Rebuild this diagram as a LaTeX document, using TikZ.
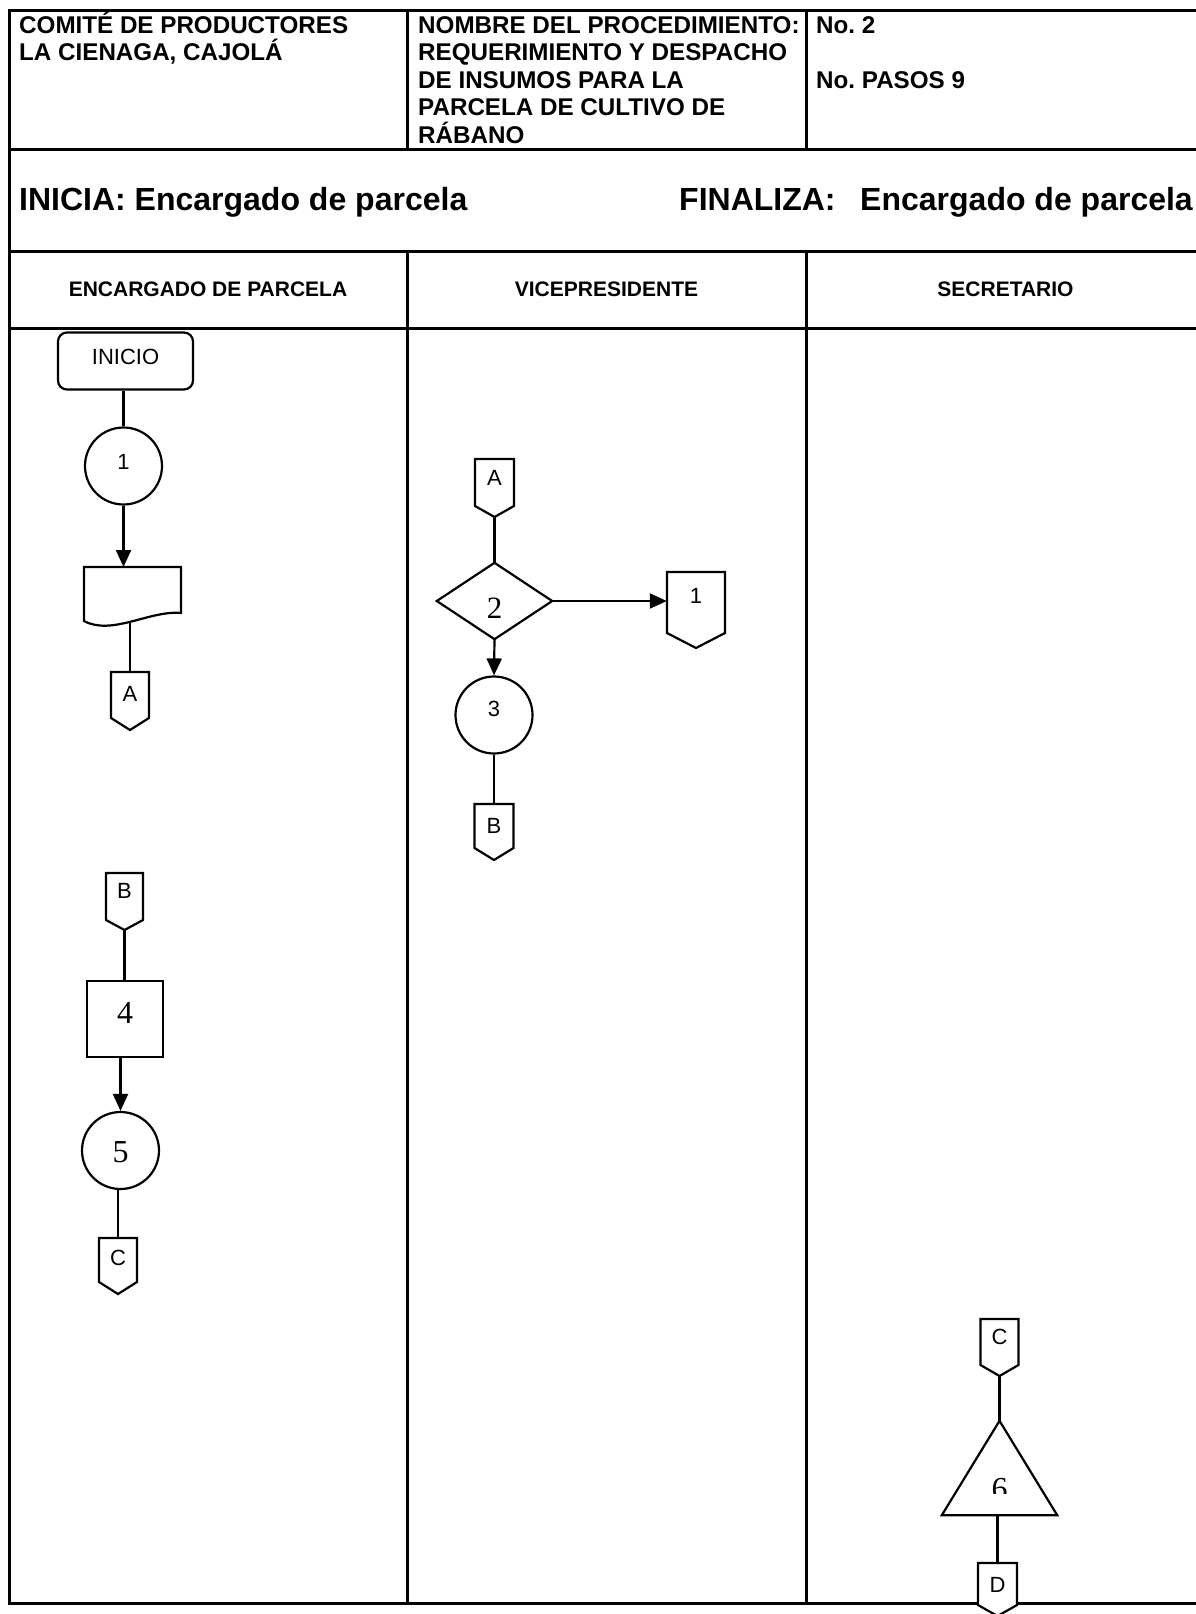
\documentclass[tikz,border=0pt]{standalone}
\usepackage{fontspec}
\setmainfont{Liberation Serif}
\newfontfamily\arialf{Liberation Sans}
\newfontfamily\tnrf{Liberation Serif}
\usetikzlibrary{arrows.meta}
\frenchspacing
\tikzset{
 frame/.style={line width=3pt},
 shp/.style={line width=2.2pt, line join=miter},
 arr/.style={shp, -{Triangle[length=17pt,width=15pt]}},
 hdr/.style={inner sep=0pt, anchor=base west, font=\arialf\bfseries\fontsize{24.2}{29}\selectfont},
 big/.style={inner sep=0pt, font=\arialf\bfseries\fontsize{32}{38}\selectfont},
 lane/.style={inner sep=0pt, font=\arialf\bfseries\fontsize{21}{25}\selectfont},
 lbl/.style={inner sep=0pt, font=\arialf\fontsize{22}{26}\selectfont},
 num/.style={inner sep=0pt, font=\tnrf\fontsize{32}{38}\selectfont},
 circ/.style={shp, draw, circle, minimum size=77pt, inner sep=0pt},
 box/.style={inner sep=0pt, draw=none},
}
\newcommand\offpage[8]{%
  \filldraw[shp, fill=white] ({#2-#4/2},#3) -- ({#2+#4/2},#3) -- ({#2+#4/2},{#3+#5}) -- (#2,{#3+#5+#6}) -- ({#2-#4/2},{#3+#5}) -- cycle;
  \node[box, minimum width=#4pt, minimum height={#5+#6}, anchor=north] (#1) at (#2,#3) {};
  \node[lbl] (#1t) at (#2,#8) {#7};
}
\begin{document}
\begin{tikzpicture}[x=1pt,y=-1pt]
\useasboundingbox (0,0) rectangle (1196,1614);
% frame
\draw[frame] (1200,10) -- (9,10) -- (9,1603) -- (1200,1603);
\draw[frame] (9,149) -- (1200,149);
\draw[frame] (9,251) -- (1200,251);
\draw[frame] (9,328) -- (1200,328);
\draw[frame] (407.5,10) -- (407.5,149);
\draw[frame] (806,10) -- (806,149);
\draw[frame] (407.5,251) -- (407.5,1603);
\draw[frame] (806,251) -- (806,1603);
% header texts
\node[hdr] (h1a) at (19,33) {COMITÉ DE PRODUCTORES};
\node[hdr] (h1b) at (19,60.5) {LA CIENAGA, CAJOLÁ};
\node[hdr] (h2a) at (418,33) {NOMBRE DEL PROCEDIMIENTO:};
\node[hdr] (h2b) at (418,60.5) {REQUERIMIENTO Y DESPACHO};
\node[hdr] (h2c) at (418,88) {DE INSUMOS PARA LA};
\node[hdr] (h2d) at (418,115.5) {PARCELA DE CULTIVO DE};
\node[hdr] (h2e) at (418,143) {RÁBANO};
\node[hdr] (h3a) at (816,33) {No. 2};
\node[hdr] (h3b) at (816,88) {No. PASOS 9};
\node[big, anchor=base west] (ini1) at (19,210) {INICIA: Encargado de parcela};
\node[big, anchor=base west] (fin1) at (679,210) {FINALIZA:};
\node[big, anchor=base east] (fin2) at (1193,210) {Encargado de parcela};
\node[lane] (l1) at (208,289) {ENCARGADO DE PARCELA};
\node[lane] (l2) at (606.5,289) {VICEPRESIDENTE};
\node[lane] (l3) at (1005.5,289) {SECRETARIO};
% lane 1 upper
\node[shp, draw, rounded corners=9pt, minimum width=135pt, minimum height=57pt, inner sep=0pt] (ini) at (125.5,361) {};
\node[lbl] (init) at (125.5,357) {INICIO};
\node[circ] (c1) at (123.5,466) {};
\node[lbl] (c1t) at (123.5,462) {1};
\draw[shp] (c1.north |- ini.south) -- (c1.north);
\node[box, minimum width=97pt, minimum height=54pt, anchor=north] (doc) at (132.5,567) {};
\draw[shp] (84,567) -- (181,567) -- (181,613) .. controls (150,610) and (112,636) .. (84,621) -- cycle;
\draw[arr] (c1.south) -- (c1.south |- doc.north);
\coordinate (docb) at (131,621.5);
\offpage{cAa}{130}{672}{38}{46}{12}{A}{694}
\draw[shp] (cAa.north |- docb) -- (cAa.north);
% lane 2
\offpage{cAb}{494.5}{459}{39}{47}{11}{A}{478}
\node[box, minimum width=115pt, minimum height=76pt] (d2) at (494.5,601) {};
\draw[shp] (d2.north) -- (d2.east) -- (d2.south) -- (d2.west) -- cycle;
\node[num, font=\tnrf\fontsize{31}{36}\selectfont] (d2t) at (494.5,608) {2};
\draw[shp] (cAb.south) -- (d2.north);
\offpage{cOne}{696}{572}{58}{61}{15}{1}{596}
\draw[arr] (d2.east) -- (cOne.west |- d2.east);
\node[circ] (c3) at (494,715) {};
\node[lbl] (c3t) at (494,709) {3};
\draw[arr] (d2.south) -- (c3.north);
\offpage{cBb}{494}{804}{39}{44}{12}{B}{826}
\draw[shp] (c3.south) -- (cBb.north);
% lane 1 lower
\offpage{cBa}{124.5}{873}{37}{47}{10}{B}{891}
\node[shp, draw, minimum width=76pt, minimum height=76pt, inner sep=0pt] (s4) at (125,1019) {};
\node[num] (s4t) at (125,1013) {4};
\draw[shp] (cBa.south) -- (cBa.south |- s4.north);
\node[circ] (c5) at (120.5,1150.5) {};
\node[num] (c5t) at (120.5,1152) {5};
\draw[arr] (c5.north |- s4.south) -- (c5.north);
\offpage{cCa}{118}{1238}{38}{44}{12}{C}{1258}
\draw[shp] (cCa.north |- c5.south) -- (cCa.north);
% lane 3
\offpage{cCb}{999.5}{1319}{38}{46}{11}{C}{1337}
\node[box, minimum width=115pt, minimum height=94pt] (t6) at (999.5,1468) {};
\draw[shp] (t6.south west) -- (t6.north) -- (t6.south east) -- cycle;
\begin{scope}
\clip (940,1465) rectangle (1060,1493);
\node[num] (t6t) at (999.5,1489) {6};
\end{scope}
\draw[shp] (cCb.south) -- (t6.north);
\offpage{cD}{997.5}{1563}{39}{42}{11}{D}{1585}
\draw[shp] (cD.north |- t6.south) -- (cD.north);
\end{tikzpicture}
\end{document}
